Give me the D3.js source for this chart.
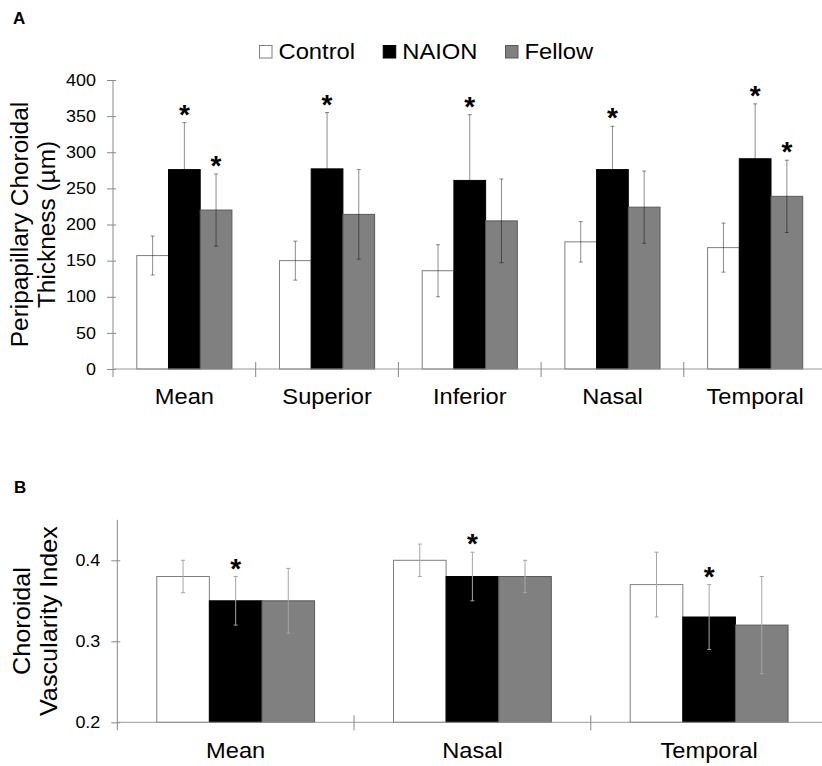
<!DOCTYPE html>
<html lang="en">
<head>
<meta charset="UTF-8">
<title>Choroidal thickness and vascularity</title>
<script src="https://d3js.org/d3.v7.min.js"></script>
<style>
  body { margin: 0; background: #fff; }
  svg { display: block; font-family: "Liberation Sans", Arial, sans-serif; }
</style>
</head>
<body>
<svg width="822" height="766"></svg>
<script>
// ---- data ----
var seriesNames = ["Control", "NAION", "Fellow"];
var seriesFill = ["#ffffff", "#000000", "#808080"];
var seriesStroke = ["#7f7f7f", "#000000", "#595959"];

// panel A : peripapillary choroidal thickness (um)
var categoriesA = ["Mean", "Superior", "Inferior", "Nasal", "Temporal"];
var controlA = [157, 150, 136, 176, 168];
var controlErrA = [27, 27, 36, 28, 34];
var naionA = [276, 277, 261, 276, 291];
var naionErrA = [65, 78, 91, 60, 76];
var fellowA = [220, 214, 205, 224, 239];
var fellowErrA = [50, 62, 58, 50, 50];
var naionStarA = [1, 1, 1, 1, 1];
var fellowStarA = [1, 0, 0, 0, 1];
var ticksA = [0, 50, 100, 150, 200, 250, 300, 350, 400];

// panel B : choroidal vascularity index
var categoriesB = ["Mean", "Nasal", "Temporal"];
var controlB = [0.38, 0.40, 0.37];
var controlErrB = [0.02, 0.02, 0.04];
var naionB = [0.35, 0.38, 0.33];
var naionErrB = [0.03, 0.03, 0.04];
var fellowB = [0.35, 0.38, 0.32];
var fellowErrB = [0.04, 0.02, 0.06];
var naionStarB = [1, 1, 1];
var fellowStarB = [0, 0, 0];
var ticksB = [0.2, 0.3, 0.4];

var svg = d3.select("svg");

// widen text a little, the original glyphs are broader than Arial
function stretch(sel, k) {
  sel.each(function () {
    var w = this.getComputedTextLength();
    d3.select(this).attr("textLength", w * k).attr("lengthAdjust", "spacingAndGlyphs");
  });
}

function drawPanel(cfg) {
  var g = svg.append("g");

  var x = d3.scaleBand().domain(cfg.categories).range([cfg.left, cfg.right]).padding(0);
  var xs = d3.scaleBand().domain(seriesNames).range([0, x.bandwidth()])
    .paddingInner(0).paddingOuter(0.75);
  var y = d3.scaleLinear().domain(cfg.domain).range([cfg.bottom, cfg.top]);

  var rows = [];
  cfg.categories.forEach(function (c, i) {
    seriesNames.forEach(function (s, j) {
      rows.push({cat: c, s: s, j: j, v: cfg.values[j][i], e: cfg.errors[j][i], star: cfg.stars[j][i]});
    });
  });

  // bars
  g.selectAll("rect.bar").data(rows).enter().append("rect")
    .attr("class", "bar")
    .attr("x", function (d) { return x(d.cat) + xs(d.s); })
    .attr("width", xs.bandwidth())
    .attr("y", function (d) { return y(d.v); })
    .attr("height", function (d) { return y(cfg.domain[0]) - y(d.v); })
    .attr("fill", function (d) { return seriesFill[d.j]; })
    .attr("stroke", function (d) { return seriesStroke[d.j]; })
    .attr("stroke-width", 1);

  // error bars
  var eg = g.selectAll("g.err").data(rows).enter().append("g")
    .attr("class", "err")
    .attr("stroke", cfg.errColor)
    .attr("stroke-width", 1)
    .attr("transform", function (d) { return "translate(" + (x(d.cat) + xs(d.s) + xs.bandwidth() / 2) + ",0)"; });
  eg.append("line").attr("x1", 0).attr("x2", 0)
    .attr("y1", function (d) { return y(d.v + d.e); })
    .attr("y2", function (d) { return y(d.v - d.e); });
  eg.append("line").attr("x1", -2).attr("x2", 2)
    .attr("y1", function (d) { return y(d.v + d.e); })
    .attr("y2", function (d) { return y(d.v + d.e); });
  eg.append("line").attr("x1", -2).attr("x2", 2)
    .attr("y1", function (d) { return y(d.v - d.e); })
    .attr("y2", function (d) { return y(d.v - d.e); });

  // significance stars
  g.selectAll("text.star").data(rows.filter(function (d) { return d.star; })).enter().append("text")
    .attr("class", "star")
    .attr("x", function (d) { return x(d.cat) + xs(d.s) + xs.bandwidth() / 2; })
    .attr("y", function (d) { return y(d.v + d.e) + 1; })
    .attr("text-anchor", "middle")
    .attr("font-size", 28)
    .attr("font-weight", "bold")
    .text("*");

  // y axis
  var ya = g.append("g").attr("transform", "translate(" + cfg.left + ",0)")
    .call(d3.axisLeft(y).tickValues(cfg.ticks).tickFormat(cfg.fmt).tickSizeOuter(0).tickPadding(12));
  ya.select(".domain").remove();
  ya.selectAll(".tick line").attr("x1", -6).attr("x2", 3).attr("stroke", "#888");
  ya.selectAll(".tick text").attr("font-size", 16).attr("fill", "#000")
    .attr("font-family", "Liberation Sans, Arial, sans-serif")
    .attr("x", -17).call(stretch, 1.12);
  g.append("line")
    .attr("x1", cfg.left).attr("x2", cfg.left)
    .attr("y1", cfg.axisTop).attr("y2", cfg.bottom + 8)
    .attr("stroke", "#888");

  // x axis : baseline, boundary ticks, labels
  g.append("line")
    .attr("x1", cfg.left).attr("x2", cfg.right)
    .attr("y1", cfg.bottom).attr("y2", cfg.bottom)
    .attr("stroke", "#999");
  g.selectAll("line.bound").data(cfg.categories.slice(1)).enter().append("line")
    .attr("class", "bound")
    .attr("x1", function (d) { return x(d); }).attr("x2", function (d) { return x(d); })
    .attr("y1", cfg.bottom - 7).attr("y2", cfg.bottom + 8)
    .attr("stroke", "#888");
  var xa = g.append("g").attr("transform", "translate(0," + cfg.bottom + ")")
    .call(d3.axisBottom(x).tickSize(0).tickPadding(cfg.labelPad));
  xa.select(".domain").remove();
  xa.selectAll(".tick text").attr("font-size", 21.5).attr("fill", "#000")
    .attr("font-family", "Liberation Sans, Arial, sans-serif")
    .call(stretch, 1.1);

  // y title
  var midY = (cfg.axisTop + cfg.bottom) / 2;
  var tt = g.append("text")
    .attr("transform", "translate(0," + midY + ") rotate(-90)")
    .attr("text-anchor", "middle")
    .attr("font-size", cfg.titleSize);
  cfg.title.forEach(function (line, i) {
    tt.append("tspan").attr("x", 0).attr("y", cfg.titleX[i]).text(line);
  });
  tt.selectAll("tspan").call(stretch, cfg.titleStretch);

  // panel letter
  g.append("text").attr("x", cfg.letterX).attr("y", cfg.letterY)
    .attr("font-size", 17).attr("font-weight", "bold").text(cfg.letter);
}

drawPanel({
  letter: "A", letterX: 13, letterY: 24,
  categories: categoriesA,
  values: [controlA, naionA, fellowA],
  errors: [controlErrA, naionErrA, fellowErrA],
  stars: [[0, 0, 0, 0, 0], naionStarA, fellowStarA],
  domain: [0, 400], ticks: ticksA, fmt: d3.format("d"),
  left: 113, right: 826.5, top: 80, axisTop: 80, bottom: 369,
  labelPad: 20,
  errColor: "rgba(0,0,0,0.45)",
  title: ["Peripapillary Choroidal", "Thickness (\u00b5m)"],
  titleX: [28, 55], titleSize: 23, titleStretch: 1.06
});

drawPanel({
  letter: "B", letterX: 14, letterY: 493,
  categories: categoriesB,
  values: [controlB, naionB, fellowB],
  errors: [controlErrB, naionErrB, fellowErrB],
  stars: [[0, 0, 0], naionStarB, fellowStarB],
  domain: [0.2, 0.45], ticks: ticksB, fmt: d3.format(".1f"),
  left: 117.3, right: 827.5, top: 519.8, axisTop: 519.8, bottom: 722.3,
  labelPad: 20,
  errColor: "#a6a6a6",
  title: ["Choroidal", "Vascularity Index"],
  titleX: [30, 57], titleSize: 24, titleStretch: 1.05
});

// legend
var lx = 259.5;
var legend = svg.append("g");
seriesNames.forEach(function (s, j) {
  legend.append("rect")
    .attr("x", lx).attr("y", 45.5).attr("width", 12.5).attr("height", 12.5)
    .attr("fill", seriesFill[j]).attr("stroke", seriesStroke[j]);
  var t = legend.append("text")
    .attr("x", lx + 19).attr("y", 59)
    .attr("font-size", 22).text(s);
  t.call(stretch, 1.08);
  lx += 19 + t.node().getComputedTextLength() * 1.08 + 22;
});
</script>
</body>
</html>
